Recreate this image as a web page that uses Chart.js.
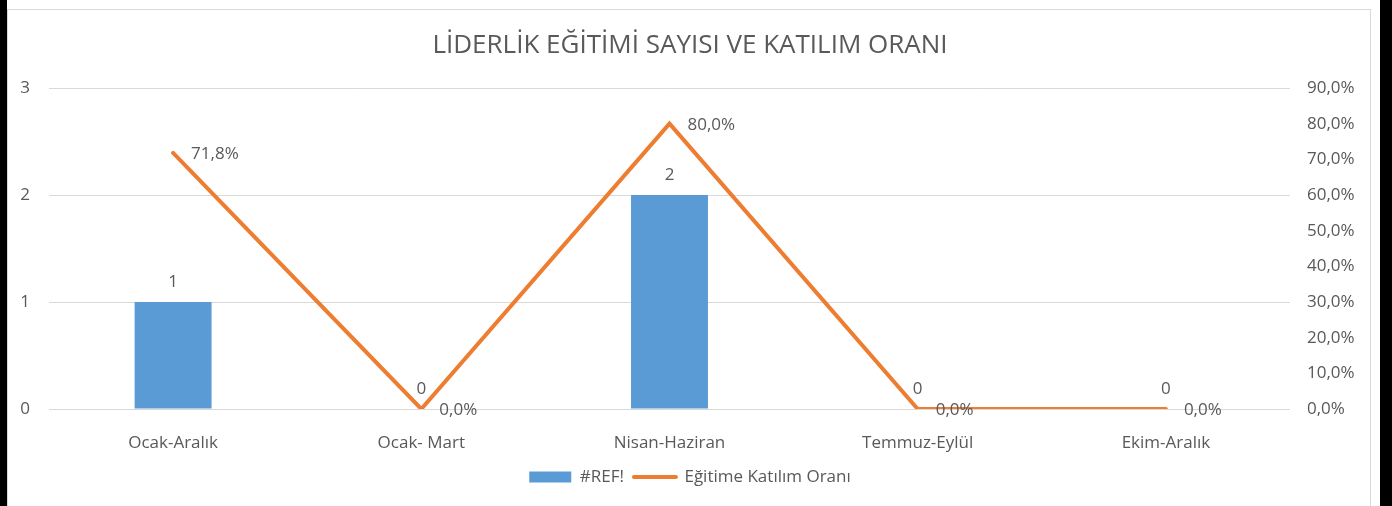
<!DOCTYPE html>
<html>
<head>
<meta charset="utf-8">
<script src="https://cdn.jsdelivr.net/npm/chart.js@4.4.1/dist/chart.umd.min.js"></script>
<style>
    html, body { margin: 0; padding: 0; background: #fff; overflow: hidden; }
    #wrap { position: relative; width: 1392px; height: 506px; }
    .bar-l { position: absolute; left: 0; top: 0; width: 7px; height: 506px; background: #000; }
    .bar-r { position: absolute; left: 1380px; top: 0; width: 12px; height: 506px; background: #000; }
    .frame { position: absolute; left: 7px; top: 9px; width: 1362px; height: 520px; border: 1px solid #d9d9d9; }
    canvas { position: absolute; left: 0; top: 0; }
</style>
</head>
<body>
<div id="wrap">
    <div class="frame"></div>
    <div class="bar-l"></div>
    <div class="bar-r"></div>
    <canvas id="chart" width="1392" height="506"></canvas>
</div>
<script>
// --- DATA ---
const donemler = ['Ocak-Aralık', 'Ocak- Mart', 'Nisan-Haziran', 'Temmuz-Eylül', 'Ekim-Aralık'];
const egitimSayisi = [1, 0, 2, 0, 0];
const katilimOrani = [71.8, 0, 80.0, 0, 0];
const solTicks = [0, 1, 2, 3];
const sagTicks = [0, 10, 20, 30, 40, 50, 60, 70, 80, 90];

const textColor = '#595959';
const fontFam = '"Open Sans", "DejaVu Sans", sans-serif';
const fmtPct = v => v.toFixed(1).replace('.', ',') + '%';

// etiketler (datalabels yerine)
const valueLabels = {
    id: 'valueLabels',
    afterDatasetsDraw(chart) {
        const ctx = chart.ctx;
        ctx.save();
        ctx.font = '17px ' + fontFam;
        ctx.fillStyle = textColor;
        chart.data.datasets.forEach((ds, i) => {
            const meta = chart.getDatasetMeta(i);
            meta.data.forEach((el, j) => {
                const v = ds.data[j];
                ctx.textBaseline = 'middle';
                if (ds.type === 'line') {
                    ctx.textAlign = 'left';
                    ctx.fillText(fmtPct(v), el.x + 18, el.y + 1);
                } else {
                    ctx.textAlign = 'center';
                    ctx.fillText(String(v), el.x, el.y - 20);
                }
            });
        });
        ctx.restore();
    }
};

new Chart(document.getElementById('chart'), {
    data: {
        labels: donemler,
        datasets: [{
            type: 'bar',
            label: '#REF!',
            data: egitimSayisi,
            backgroundColor: '#5b9bd5',
            categoryPercentage: 1,
            barPercentage: 0.31,
            yAxisID: 'y'
        }, {
            type: 'line',
            label: 'Eğitime Katılım Oranı',
            data: katilimOrani,
            borderColor: '#ed7d31',
            backgroundColor: '#ed7d31',
            borderWidth: 4,
            borderCapStyle: 'round',
            pointRadius: 0,
            tension: 0,
            yAxisID: 'y1'
        }]
    },
    plugins: [valueLabels],
    options: {
        responsive: false,
        animation: false,
        events: [],
        layout: { padding: { left: 0, right: 12, top: 0, bottom: 10.5 } },
        scales: {
            x: {
                offset: true,
                grid: { display: false },
                border: { display: false },
                ticks: { color: textColor, font: { family: fontFam, size: 17 }, padding: 16, maxRotation: 0 },
                afterFit: s => { s.height = 49.5; }
            },
            y: {
                position: 'left',
                min: 0, max: 3,
                afterBuildTicks: s => { s.ticks = solTicks.map(v => ({ value: v })); },
                grid: { color: '#d9d9d9', lineWidth: 1, drawTicks: false },
                border: { display: false },
                ticks: { color: textColor, font: { family: fontFam, size: 17 }, padding: 19 },
                afterFit: s => { s.width = 49; }
            },
            y1: {
                position: 'right',
                min: 0, max: 90,
                afterBuildTicks: s => { s.ticks = sagTicks.map(v => ({ value: v })); },
                grid: { display: false, drawTicks: false },
                border: { display: false },
                ticks: { color: textColor, font: { family: fontFam, size: 17 }, padding: 17, callback: v => fmtPct(v) },
                afterFit: s => { s.width = 90; }
            }
        },
        plugins: {
            title: {
                display: true,
                text: 'LİDERLİK EĞİTİMİ SAYISI VE KATILIM ORANI',
                color: textColor,
                font: { family: fontFam, size: 26, weight: 'normal' },
                padding: { top: 29.5, bottom: 27.3 }
            },
            legend: {
                position: 'bottom',
                labels: {
                    color: textColor,
                    font: { family: fontFam, size: 17 },
                    usePointStyle: true,
                    pointStyleWidth: 42,
                    boxHeight: 11,
                    padding: 10,
                    generateLabels(chart) {
                        const items = Chart.defaults.plugins.legend.labels.generateLabels(chart);
                        items.forEach(it => {
                            if (it.text === '#REF!') {
                                it.pointStyle = 'rect';
                                it.lineWidth = 0;
                                it.fillStyle = '#5b9bd5';
                                it.strokeStyle = '#5b9bd5';
                            } else {
                                it.pointStyle = 'line';
                                it.lineWidth = 4;
                                it.strokeStyle = '#ed7d31';
                                it.lineCap = 'round';
                            }
                        });
                        return items;
                    }
                }
            },
            tooltip: { enabled: false }
        }
    }
});
</script>
</body>
</html>
